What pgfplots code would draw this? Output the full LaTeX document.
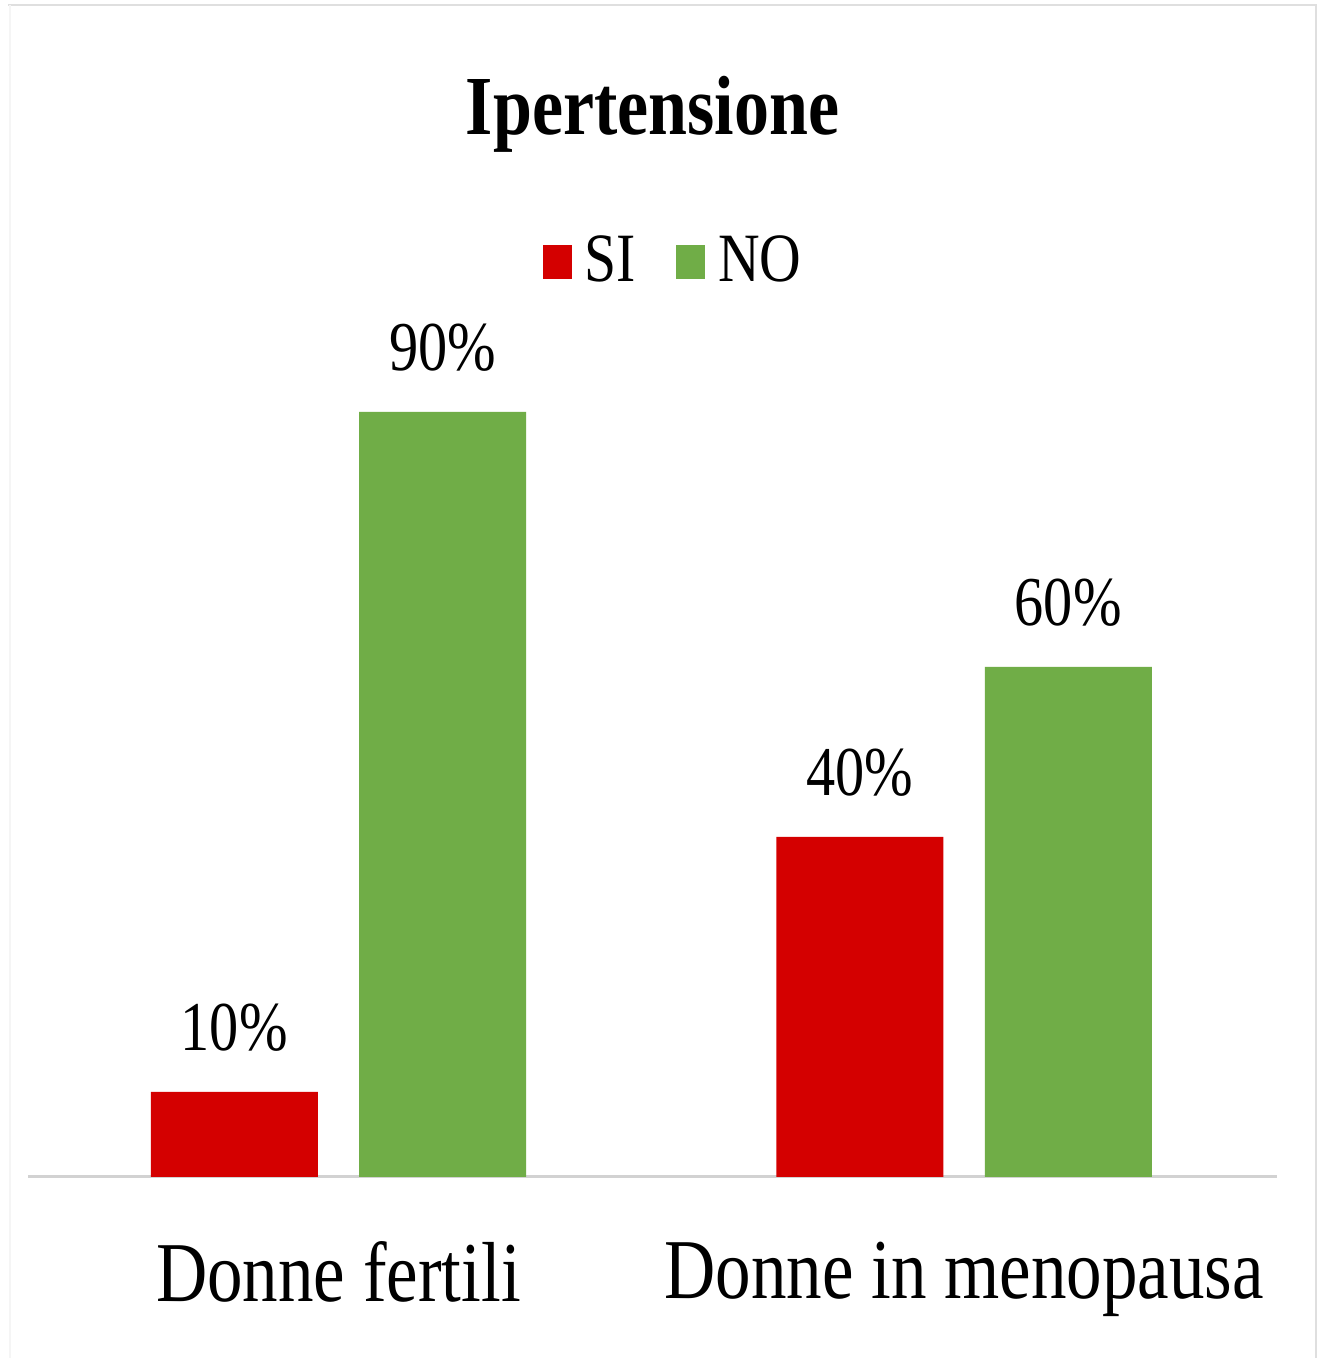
\documentclass[border=0pt]{standalone}
\usepackage{fontspec}
\setmainfont{Liberation Serif}[FakeStretch=0.833]
\usepackage{pgfplots}
\pgfplotsset{compat=1.18}
\definecolor{siRed}{RGB}{212,0,0}
\definecolor{noGreen}{RGB}{112,173,71}
\begin{document}
\begin{tikzpicture}
\useasboundingbox (0,0) rectangle (330.5pt,339.5pt);
\fill[white] (0,0) rectangle (330.5pt,339.5pt);
\draw[gray!25, line width=0.5pt] (2pt,338.25pt) -- (329pt,338.25pt) -- (329pt,0);
\draw[gray!8, line width=0.5pt] (2.5pt,338.25pt) -- (2.5pt,0);
\begin{axis}[
  at={(7pt,45.25pt)}, anchor=south west, scale only axis,
  width=312.25pt, height=212.5pt,
  xmin=-0.4964, xmax=1.5004, ymin=0, ymax=100,
  axis y line=none, axis x line*=bottom,
  axis line style={draw=gray!35, line width=0.75pt, -},
  xtick={0,1}, xticklabels={Donne fertili, Donne in menopausa},
  major tick length=0pt,
  xticklabel style={font=\fontsize{21.3}{26}\selectfont, inner sep=0pt, anchor=north, yshift=-16pt},
  ybar, bar width=41.75pt,
  nodes near coords={\pgfmathprintnumber{\pgfplotspointmeta}\%},
  nodes near coords style={font=\fontsize{17.5}{21}\selectfont, inner sep=0pt, anchor=south, yshift=10pt, text=black},
  /pgf/number format/assume math mode=true,
  title={Ipertensione},
  title style={font=\bfseries\fontsize{21}{25}\selectfont, at={(0.5,1)}, anchor=base, yshift=42pt},
  legend style={at={(0.5208,1)}, anchor=center, yshift=16.25pt, draw=none, fill=none,
    legend columns=2, font=\fontsize{17.3}{20}\selectfont,
    nodes={inner xsep=3.2pt},
    /tikz/every even column/.append style={column sep=7pt}},
  legend image code/.code={\fill[#1] (0pt,-4.25pt) rectangle (7.25pt,4.25pt);},
  clip=false,
]
\addplot[fill=siRed, draw=none, bar shift=-26.06pt] coordinates {(0,10) (1,40)};
\addlegendentry{SI}
\addplot[fill=noGreen, draw=none, bar shift=26.06pt] coordinates {(0,90) (1,60)};
\addlegendentry{NO}
\end{axis}
\end{tikzpicture}
\end{document}
